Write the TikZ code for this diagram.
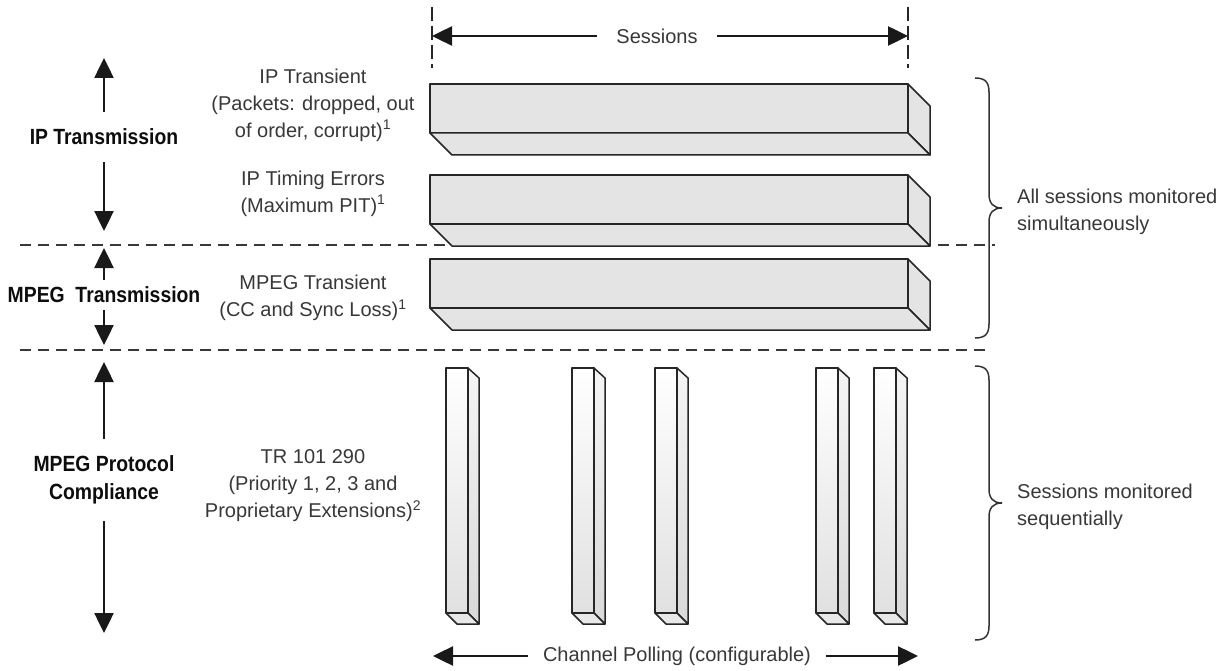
\documentclass[tikz,border=0pt]{standalone}
\usepackage{fontspec}
\setmainfont{Liberation Sans}
\newfontfamily\headfont[FakeStretch=0.88]{Liberation Sans}
\usetikzlibrary{arrows.meta}
\definecolor{barfill}{HTML}{E4E4E4}
\definecolor{inkgray}{HTML}{383838}

\begin{document}
\begin{tikzpicture}[x=1pt,y=-1pt,
  every node/.style={font=\fontsize{20}{27}\selectfont,text=inkgray},
  head/.style={font=\headfont\bfseries\fontsize{22}{28}\selectfont,
    text=black!95,align=center},
  lbl/.style={align=center,inner sep=0pt},
  arr/.style={-{Triangle[length=20pt,width=19pt]},line width=2.5pt,black!90},
  sep/.style={dash pattern=on 11pt off 7pt,line width=2.8pt,black!78},
  tick/.style={dash pattern=on 14pt off 5pt,line width=2pt,black!85},
  face/.style={draw=black!85,line width=1.5pt,fill=barfill,line join=round},
  col/.style={draw=black!85,line width=1.5pt,top color=white,
    bottom color=black!12,line join=round},
  brc/.style={line width=1.5pt,black!80}]
 \useasboundingbox[fill=white] (0,0) rectangle (1228,671);

 % layer borders
 \draw[sep] (20,245) -- (995,245);
 \draw[sep] (20,350) -- (990,350);

 % sessions, monitored together
 \foreach \t in {84,175,259}{
   \draw[face] (430,\t) rectangle (908,\t+49);
   \draw[face] (908,\t) -- (930,\t+22) -- (930,\t+71) -- (908,\t+49) -- cycle;
   \draw[face] (430,\t+49) -- (452,\t+71) -- (930,\t+71) -- (908,\t+49) -- cycle;
 }

 % channels, polled one after another
 \foreach \x in {446,572,655,816,874}{
   \draw[col] (\x,368) rectangle (\x+22,613);
   \draw[col,top color=black!4,bottom color=black!15]
     (\x+22,368) -- (\x+33,378) -- (\x+33,624) -- (\x+22,613) -- cycle;
   \draw[face,fill=black!9] (\x,613) -- (\x+11,624) -- (\x+33,624) -- (\x+22,613) -- cycle;
 }

 \node (sess) at (657,36) [inner xsep=19pt] {Sessions};
 \coordinate (sessL) at (432,36);
 \coordinate (sessR) at (908,36);
 \draw[arr] (sess) -- (sessL);
 \draw[arr] (sess) -- (sessR);
 \draw[tick] (432,7) -- (432,68);
 \draw[tick] (908,7) -- (908,68);

 \node (poll) at (677,656) [inner xsep=15pt] {Channel Polling (configurable)};
 \coordinate (pollL) at (433,656);
 \coordinate (pollR) at (918,656);
 \draw[arr] (poll) -- (pollL);
 \draw[arr] (poll) -- (pollR);

 % layers on the left
 \node[head,inner ysep=17pt] (iptx) at (104,137) {IP Transmission};
 \coordinate (iptxT) at (104,58);
 \coordinate (iptxB) at (104,231);
 \draw[arr] (iptx) -- (iptxT);
 \draw[arr] (iptx) -- (iptxB);

 \node[head,inner ysep=7pt] (mptx) at (104,295) {MPEG\ \ Transmission};
 \coordinate (mptxT) at (104,248);
 \coordinate (mptxB) at (104,345);
 \draw[arr] (mptx) -- (mptxT);
 \draw[arr] (mptx) -- (mptxB);

 \node[head,inner ysep=17pt] (mppc) at (104,480) {MPEG Protocol\\Compliance};
 \coordinate (mppcT) at (104,362);
 \coordinate (mppcB) at (104,633);
 \draw[arr] (mppc) -- (mppcT);
 \draw[arr] (mppc) -- (mppcB);

 % what is measured
 \node[lbl] (iptr) at (313,105)
   {IP Transient\\(Packets: dropped, out\\of order, corrupt)\textsuperscript{1}};
 \node[lbl] (iptm) at (313,193.5)
   {IP Timing Errors\\(Maximum PIT)\textsuperscript{1}};
 \node[lbl] (mptr) at (313,298)
   {MPEG Transient\\(CC and Sync Loss)\textsuperscript{1}};
 \node[lbl] (trpr) at (313,486)
   {TR 101 290\\(Priority 1, 2, 3 and\\Proprietary Extensions)\textsuperscript{2}};

 % braces on the right
 \draw[brc] (975,78) .. controls (985,78) and (989,82) .. (989,92) -- (989,194)
   .. controls (989,203) and (993,208) .. (1002,208)
   .. controls (993,208) and (989,213) .. (989,222) -- (989,324)
   .. controls (989,334) and (985,338) .. (975,338);
 \draw[brc] (975,366) .. controls (985,366) and (989,370) .. (989,380) -- (989,489)
   .. controls (989,498) and (993,503) .. (1002,503)
   .. controls (993,503) and (989,508) .. (989,517) -- (989,626)
   .. controls (989,636) and (985,640) .. (975,640);
 \node[lbl,align=left,anchor=west] (simul) at (1017,212)
   {All sessions monitored\\simultaneously};
 \node[lbl,align=left,anchor=west] (seqn) at (1017,507)
   {Sessions monitored\\sequentially};
\end{tikzpicture}
\end{document}
